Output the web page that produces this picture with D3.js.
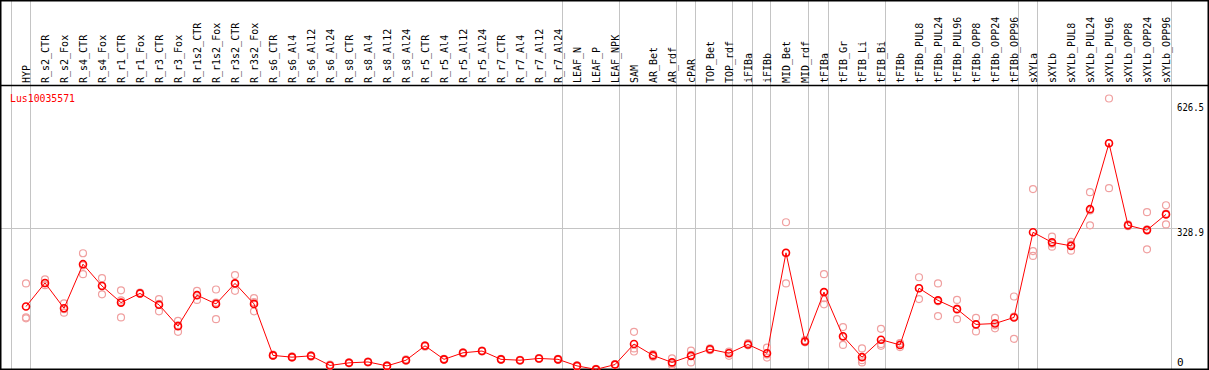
<!DOCTYPE html>
<html lang="en">
<head>
  <meta charset="utf-8">
  <title>Lus10035571</title>
  <script src="https://cdn.jsdelivr.net/npm/d3@7"></script>
  <style>
    body { margin: 0; background: #fff; overflow: hidden; }
    text { font-family: 'DejaVu Sans Mono', monospace; font-size: 10px; }
    .sep { stroke: #c4c4c4; stroke-width: 1; }
    .frame { stroke: #000; stroke-width: 1.5; fill: none; }
  </style>
</head>
<body>
<div id="chart"></div>
<script>
// column names
const samples = ["HYP","R_s2_CTR","R_s2_Fox","R_s4_CTR","R_s4_Fox","R_r1_CTR","R_r1_Fox","R_r3_CTR","R_r3_Fox",
  "R_r1s2_CTR","R_r1s2_Fox","R_r3s2_CTR","R_r3s2_Fox","R_s6_CTR","R_s6_Al4","R_s6_Al12","R_s6_Al24",
  "R_s8_CTR","R_s8_Al4","R_s8_Al12","R_s8_Al24","R_r5_CTR","R_r5_Al4","R_r5_Al12","R_r5_Al24",
  "R_r7_CTR","R_r7_Al4","R_r7_Al12","R_r7_Al24","LEAF_N","LEAF_P","LEAF_NPK","SAM","AR_Bet","AR_rdf",
  "cPAR","TOP_Bet","TOP_rdf","iFIBa","iFIBb","MID_Bet","MID_rdf","tFIBa","tFIB_Gr","tFIB_Li","tFIB_Bi",
  "tFIBb","tFIBb_PUL8","tFIBb_PUL24","tFIBb_PUL96","tFIBb_OPP8","tFIBb_OPP24","tFIBb_OPP96",
  "sXYLa","sXYLb","sXYLb_PUL8","sXYLb_PUL24","sXYLb_PUL96","sXYLb_OPP8","sXYLb_OPP24","sXYLb_OPP96"];

// index of the first sample of each tissue group
const groupStarts = [0, 1, 29, 32, 35, 36, 38, 39, 40, 42, 43, 46, 53, 54];

// mean expression per sample
const means = [150, 204, 146, 247, 197, 159, 180, 154, 105, 176, 156, 203, 156, 38, 34, 37, 15,
  21, 23, 14, 27, 60, 29, 44, 48, 29, 27, 31, 29, 14, 6, 17, 64, 38, 22, 37, 52, 43, 63, 43,
  273, 70, 183, 82, 34, 74, 62, 192, 164, 144, 109, 111, 125, 320, 297, 289, 373, 524, 336, 325, 361];

// replicate values per sample
const reps = [[203,125,123],[212,203,199],[157,144,136],[272,244,224],[215,198,178],[187,164,125],
  [182,180,179],[167,156,139],[117,107,92],[186,176,165],[189,159,121],[222,203,186],[169,160,139],
  [40,38,37],[36,34,33],[38,37,35],[17,15,14],[22,21,20],[24,23,22],[15,14,13],[29,27,26],
  [61,60,58],[30,29,28],[45,44,42],[49,48,47],[30,29,28],[28,27,26],[32,31,30],[30,29,28],
  [15,14,13],[7,6,5],[18,17,16],[92,54,47],[41,38,35],[31,19,16],[49,39,22],[54,52,50],[47,45,37],
  [66,63,61],[56,40,33],[343,272,203],[73,70,68],[224,169,155],[103,80,62],[54,27,22],[99,64,60],
  [66,65,57],[217,192,167],[203,162,128],[165,145,121],[124,110,93],[124,107,100],[173,127,76],
  [419,277,266],[310,294,287],[298,292,278],[412,370,336],[626.5,524,421],[338,336,334],[366,327,281],[382,363,338]];

const geneName = "Lus10035571";
const yTicks = [626.5, 328.9, 0];

const width = 1209, height = 370;
const svg = d3.select("#chart").append("svg")
  .attr("width", width).attr("height", height);

const x = d3.scaleLinear().domain([0, samples.length - 1]).range([26, 1166]);
const y = d3.scaleLinear().domain([0, 626.5]).range([372, 98.5]);

// group separators
const sepX = groupStarts.map(i => x(i) - 15.5).concat([x(samples.length - 1) + 4.5]);
svg.append("g").selectAll("line").data(sepX).enter().append("line")
  .attr("class", "sep")
  .attr("x1", d => Math.round(d) + 0.5).attr("x2", d => Math.round(d) + 0.5)
  .attr("y1", 0).attr("y2", height);

// mid grid line
svg.append("line").attr("class", "sep")
  .attr("x1", 0).attr("x2", 1177)
  .attr("y1", Math.round(y(328.9)) + 0.5).attr("y2", Math.round(y(328.9)) + 0.5);

// frame
svg.append("rect").attr("class", "frame")
  .attr("x", 0.75).attr("y", 0.75).attr("width", width - 1.5).attr("height", height - 1.5);
svg.append("line").attr("x1", 0).attr("x2", width).attr("y1", 85.5).attr("y2", 85.5)
  .attr("stroke", "#000").attr("stroke-width", 1.5);

// column labels
svg.append("g").selectAll("text").data(samples).enter().append("text")
  .attr("transform", (d, i) => `translate(${x(i) + 4},83) rotate(-90)`)
  .attr("fill", "#000")
  .text(d => d);

// gene name
svg.append("text").attr("x", 10).attr("y", 101.5)
  .attr("fill", "#ff0000").style("font-size", "11px")
  .attr("textLength", 65).attr("lengthAdjust", "spacingAndGlyphs").text(geneName);

// y labels
const tickY = { "626.5": 110.5, "328.9": 236, "0": 365.5 };
svg.append("g").selectAll("text").data(yTicks).enter().append("text")
  .attr("x", 1177).attr("y", d => tickY[d])
  .attr("fill", "#000").style("font-size", "11px")
  .attr("textLength", d => String(d).length > 1 ? 27 : null)
  .attr("lengthAdjust", "spacingAndGlyphs")
  .text(d => d);

// replicates
const repPts = [];
reps.forEach((r, i) => r.forEach(v => repPts.push([i, v])));
svg.append("g").selectAll("circle").data(repPts).enter().append("circle")
  .attr("cx", d => x(d[0])).attr("cy", d => y(d[1])).attr("r", 3.5)
  .attr("fill", "none").attr("stroke", "#f0a0a0").attr("stroke-width", 1.2);

// mean line
const line = d3.line().x((d, i) => x(i)).y(d => y(d));
svg.append("path").datum(means).attr("d", line)
  .attr("fill", "none").attr("stroke", "#ff0000").attr("stroke-width", 1);

// means
svg.append("g").selectAll("circle").data(means).enter().append("circle")
  .attr("cx", (d, i) => x(i)).attr("cy", d => y(d)).attr("r", 3.5)
  .attr("fill", "none").attr("stroke", "#ff0000").attr("stroke-width", 1.6);
</script>
</body>
</html>
